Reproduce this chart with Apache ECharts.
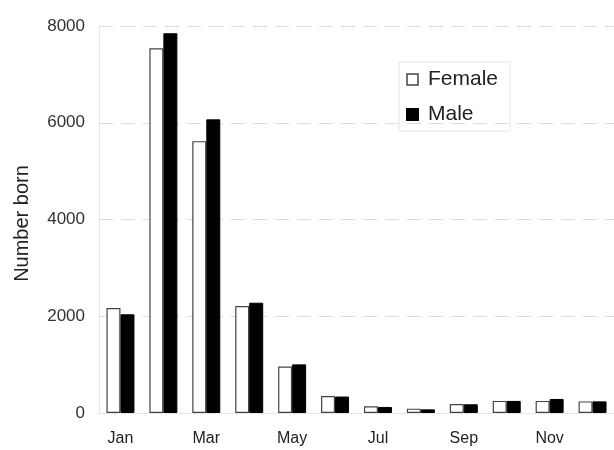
<!DOCTYPE html>
<html>
<head>
<meta charset="utf-8">
<script src="https://cdn.jsdelivr.net/npm/echarts@6/dist/echarts.min.js"></script>
<style>
  html, body { margin: 0; padding: 0; background: #fff; }
  #chart { width: 614px; height: 450px; }
</style>
</head>
<body>
<div id="chart"></div>
<script>
// months and counts
var months = ['Jan', 'Feb', 'Mar', 'Apr', 'May', 'Jun', 'Jul', 'Aug', 'Sep', 'Oct', 'Nov', 'Dec'];
var female = [2170, 7540, 5620, 2210, 960, 350, 140, 90, 185, 250, 250, 240];
var male = [2040, 7850, 6070, 2280, 1005, 340, 125, 75, 180, 250, 290, 240];
var yTicks = [0, 2000, 4000, 6000, 8000];

var myChart = echarts.init(document.getElementById('chart'));

var option = {
  animation: false,
  backgroundColor: '#fff',
  textStyle: { fontFamily: 'Liberation Sans, Arial, sans-serif' },
  legend: {
    orient: 'vertical',
    left: 399,
    top: 62,
    padding: [7, 12, 6, 7],
    itemGap: 14,
    itemWidth: 11,
    itemHeight: 11,
    borderColor: '#e4e4e4',
    borderWidth: 1,
    textStyle: { fontSize: 21, color: '#222', padding: [0, 0, 0, 5] },
    data: [
      { name: 'Female', icon: 'rect', itemStyle: { color: '#fff', borderColor: '#444', borderWidth: 1.5 } },
      { name: 'Male', icon: 'rect', itemStyle: { color: '#000' } }
    ]
  },
  grid: {
    left: 99,
    right: -5,
    top: 26,
    bottom: 37
  },
  xAxis: {
    type: 'category',
    data: months,
    axisTick: { show: false },
    axisLine: { lineStyle: { color: '#e6e6e6' } },
    axisLabel: {
      interval: 1,
      fontSize: 16,
      color: '#222',
      margin: 18
    }
  },
  yAxis: {
    type: 'value',
    min: yTicks[0],
    max: yTicks[yTicks.length - 1],
    interval: 2000,
    name: 'Number born',
    nameLocation: 'middle',
    nameGap: 67,
    nameTextStyle: { fontSize: 20, color: '#222', padding: [0, 8, 0, 0] },
    axisLine: { show: true, lineStyle: { color: '#e6e6e6' } },
    axisTick: { show: false },
    axisLabel: {
      fontSize: 17,
      color: '#333',
      margin: 14,
      formatter: function (v) { return String(v); }
    },
    splitLine: { show: true, lineStyle: { color: '#dedede', type: [14, 8] } }
  },
  series: [
    {
      name: 'Female',
      type: 'bar',
      data: female,
      barWidth: 14,
      barGap: '0%',
      itemStyle: { color: '#fff', borderColor: '#444', borderWidth: 1.2 }
    },
    {
      name: 'Male',
      type: 'bar',
      data: male,
      barWidth: 14,
      itemStyle: { color: '#000', borderColor: '#000', borderWidth: 1 }
    }
  ]
};

myChart.setOption(option);
</script>
</body>
</html>
